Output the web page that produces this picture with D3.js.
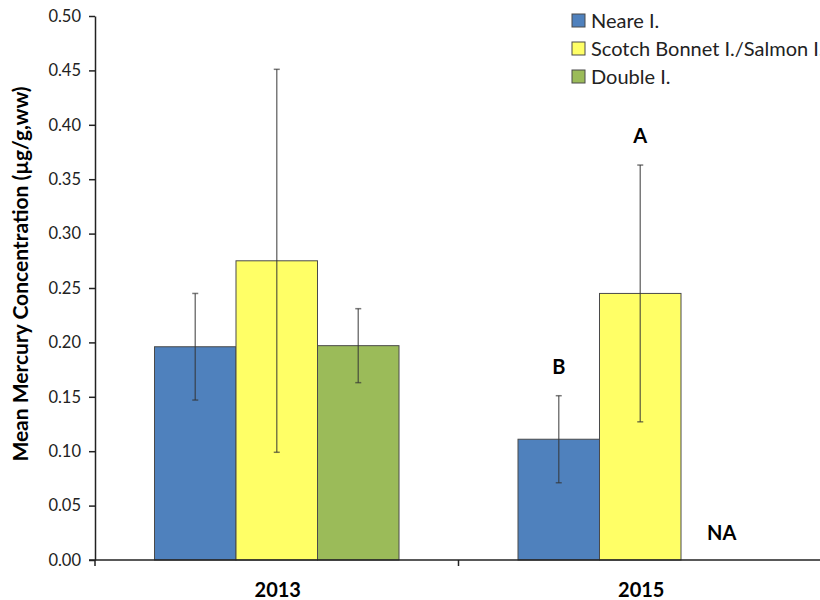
<!DOCTYPE html>
<html>
<head>
<meta charset="utf-8">
<script src="https://cdn.jsdelivr.net/npm/d3@7"></script>
<style>
  html, body { margin: 0; padding: 0; background: #fff; }
  svg { display: block; }
  text { font-family: Lato, "Noto Sans", sans-serif; }
</style>
</head>
<body>
<svg id="chart" width="820" height="600"></svg>
<script>
// Years on the category axis
const years = ["2013", "2015"];
// Sampling sites (series)
const sites = ["Neare I.", "Scotch Bonnet I./Salmon I.", "Double I."];
const siteColors = ["#4F81BD", "#FFFF66", "#9BBB59"];
// Mean mercury concentration per site, for 2013 and 2015 (null = not sampled)
const meanNeare = [0.196, 0.111];
const meanScotch = [0.275, 0.245];
const meanDouble = [0.197, null];
// Half-width of the error bars (± around the mean)
const errNeare = [0.049, 0.040];
const errScotch = [0.176, 0.118];
const errDouble = [0.034, null];
// Significance letters above the 2015 bars, and the missing-data label
const letters2015 = ["B", "A", "NA"];
// Y-axis tick values
const yTicks = [0, 0.05, 0.10, 0.15, 0.20, 0.25, 0.30, 0.35, 0.40, 0.45, 0.50];

(function () {
const means = [meanNeare, meanScotch, meanDouble];
const errs = [errNeare, errScotch, errDouble];

const svg = d3.select("#chart");
const mLeft = 95, mRight = 822, mTop = 16, mBottom = 560;

const y = d3.scaleLinear().domain([0, 0.5]).range([mBottom, mTop]);
const x0 = d3.scaleBand().domain(years).range([mLeft, mRight]).padding(0);
const x1 = d3.scaleBand().domain(sites).range([0, x0.bandwidth()])
  .paddingInner(0).paddingOuter(0.73);

// Flatten into bar records
const bars = [];
years.forEach((yr, i) => {
  sites.forEach((s, j) => {
    bars.push({ year: yr, site: s, si: j, value: means[j][i], err: errs[j][i],
                letter: i === 1 ? letters2015[j] : null });
  });
});

// Bars
svg.append("g").selectAll("rect")
  .data(bars.filter(d => d.value != null))
  .join("rect")
  .attr("x", d => x0(d.year) + x1(d.site))
  .attr("y", d => y(d.value))
  .attr("width", x1.bandwidth())
  .attr("height", d => y(0) - y(d.value))
  .attr("fill", d => siteColors[d.si])
  .attr("stroke", "#4a4a4a")
  .attr("stroke-width", 1);

// Error bars
const eb = svg.append("g")
  .attr("stroke", "#333")
  .attr("stroke-opacity", 0.65)
  .attr("stroke-width", 1.5);
bars.filter(d => d.value != null).forEach(d => {
  const cx = x0(d.year) + x1(d.site) + x1.bandwidth() / 2;
  const yHi = y(d.value + d.err), yLo = y(d.value - d.err);
  eb.append("line").attr("x1", cx).attr("x2", cx).attr("y1", yHi).attr("y2", yLo);
  eb.append("line").attr("x1", cx - 3).attr("x2", cx + 3).attr("y1", yHi).attr("y2", yHi);
  eb.append("line").attr("x1", cx - 3).attr("x2", cx + 3).attr("y1", yLo).attr("y2", yLo);
});

// Letters for 2015
svg.append("g").selectAll("text")
  .data(bars.filter(d => d.letter))
  .join("text")
  .attr("x", d => x0(d.year) + x1(d.site) + x1.bandwidth() / 2)
  .attr("y", d => d.value == null ? y(0) - 20 : y(d.value + d.err) - 22)
  .attr("text-anchor", "middle")
  .attr("font-size", 20)
  .attr("font-weight", "bold")
  .attr("fill", "#000")
  .text(d => d.letter);

// Y axis
const yAxis = svg.append("g")
  .attr("transform", `translate(${mLeft},0)`)
  .call(d3.axisLeft(y).tickValues(yTicks).tickFormat(d3.format(".2f")).tickSize(6).tickSizeOuter(0));
yAxis.select(".domain").attr("stroke", "#222").attr("stroke-width", 1.5);
yAxis.selectAll(".tick line").attr("stroke", "#222").attr("stroke-width", 1.5);
yAxis.selectAll(".tick text").attr("font-size", 16.5).attr("fill", "#222")
  .attr("font-family", "Lato, sans-serif").attr("x", -14);

// X axis line and ticks at category boundaries
const xa = svg.append("g");
xa.append("line").attr("x1", mLeft - 6).attr("x2", mRight).attr("y1", mBottom).attr("y2", mBottom)
  .attr("stroke", "#222").attr("stroke-width", 1.5);
const bounds = [mLeft, x0(years[1]), mRight];
xa.selectAll("line.tk").data(bounds).join("line").attr("class", "tk")
  .attr("x1", d => d).attr("x2", d => d).attr("y1", mBottom).attr("y2", mBottom + 6)
  .attr("stroke", "#222").attr("stroke-width", 1.5);
xa.selectAll("text").data(years).join("text")
  .attr("x", d => x0(d) + x0.bandwidth() / 2 + 1)
  .attr("y", 597)
  .attr("text-anchor", "middle")
  .attr("font-size", 20)
  .attr("font-weight", "bold")
  .text(d => d);

// Y-axis title
svg.append("text")
  .attr("transform", "translate(28,274) rotate(-90)")
  .attr("text-anchor", "middle")
  .attr("font-size", 21)
  .attr("font-weight", "bold")
  .text("Mean Mercury Concentration (µg/g,ww)");

// Legend
const lg = svg.append("g").attr("transform", "translate(572,14)");
sites.forEach((s, i) => {
  const g = lg.append("g").attr("transform", `translate(0,${i * 28})`);
  g.append("rect").attr("width", 13).attr("height", 13)
    .attr("fill", siteColors[i]).attr("stroke", "#4a4a4a").attr("stroke-width", 1);
  g.append("text").attr("x", 19).attr("y", 14).attr("font-size", 20).attr("fill", "#222").text(s);
});
})();
</script>
</body>
</html>
